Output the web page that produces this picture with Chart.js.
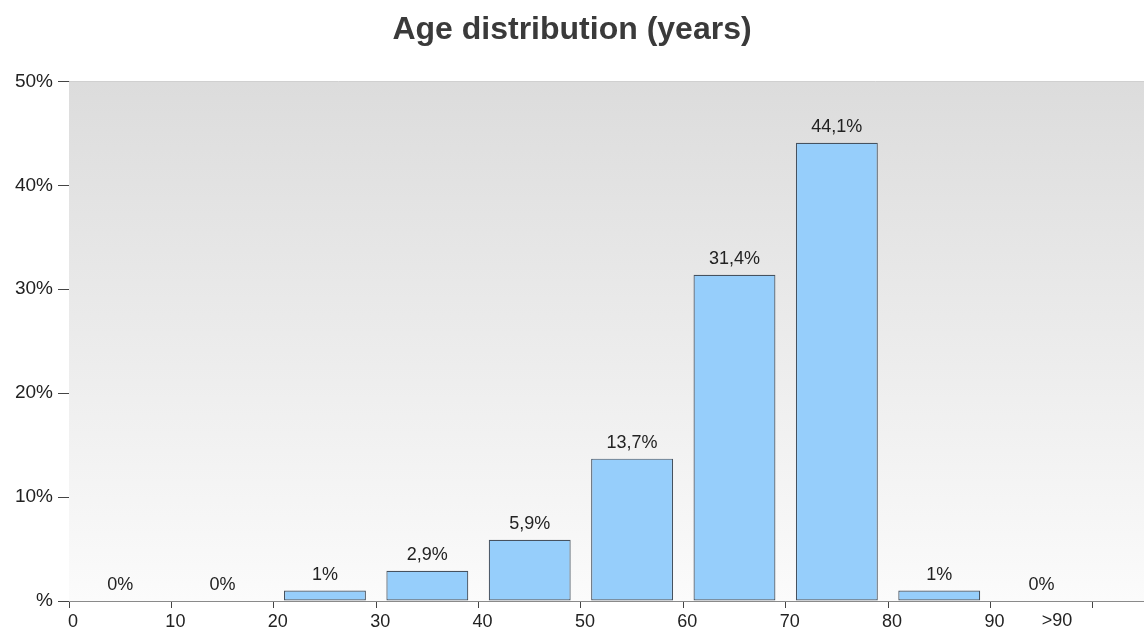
<!DOCTYPE html>
<html>
<head>
<meta charset="utf-8">
<script src="https://cdn.jsdelivr.net/npm/chart.js@4"></script>
<style>
  html, body { margin: 0; padding: 0; background: #fff; }
  #wrap { width: 1144px; height: 634px; }
</style>
</head>
<body>
<div id="wrap"><canvas id="ageChart"></canvas></div>
<script>
// age groups: bar centre on the x axis (years) and share in percent
const groupCentres = [5, 15, 25, 35, 45, 55, 65, 75, 85, 95];
const shares = [0, 0, 1, 2.9, 5.9, 13.7, 31.4, 44.1, 1, 0];
const xTickValues = [0, 10, 20, 30, 40, 50, 60, 70, 80, 90, 100];
const xTickLabels = ['0', '10', '20', '30', '40', '50', '60', '70', '80', '90', ''];
const lastGroupLabel = '>90';
const lastGroupLabelAt = 96.5;
const yTickValues = [0, 10, 20, 30, 40, 50];

const FONT = 'Liberation Sans, Arial, sans-serif';

// grey-to-white background behind the bars
const plotBackground = {
    id: 'plotBackground',
    beforeDatasetsDraw(chart) {
        const { ctx, chartArea: a } = chart;
        const g = ctx.createLinearGradient(0, a.top, 0, a.bottom);
        g.addColorStop(0, '#dcdcdc');
        g.addColorStop(1, '#fbfbfb');
        ctx.save();
        ctx.fillStyle = g;
        ctx.fillRect(a.left, a.top, a.right - a.left, a.bottom - a.top);
        ctx.restore();
    }
};

// value labels above every bar (comma as decimal mark) + the ">90" axis label
const valueLabels = {
    id: 'valueLabels',
    afterDatasetsDraw(chart) {
        const { ctx } = chart;
        const meta = chart.getDatasetMeta(0);
        ctx.save();
        ctx.font = '18px ' + FONT;
        ctx.fillStyle = '#222';
        ctx.textAlign = 'center';
        ctx.textBaseline = 'alphabetic';
        meta.data.forEach((bar, i) => {
            const txt = String(shares[i]).replace('.', ',') + '%';
            ctx.fillText(txt, bar.x, bar.y - 11);
        });
        ctx.restore();
    },
    afterDraw(chart) {
        const { ctx } = chart;
        const x = chart.scales.x;
        ctx.save();
        ctx.font = '18px ' + FONT;
        ctx.fillStyle = '#222';
        ctx.textAlign = 'center';
        ctx.textBaseline = 'top';
        ctx.fillText(lastGroupLabel, x.getPixelForValue(lastGroupLabelAt), x.top + 11);
        ctx.restore();
    }
};

Chart.register(plotBackground);

new Chart(document.getElementById('ageChart'), {
    type: 'bar',
    data: {
        datasets: [{
            data: groupCentres.map((x, i) => ({ x: x, y: shares[i] })),
            backgroundColor: '#96cefb',
            borderColor: '#46525f',
            borderWidth: 1.2,
            borderSkipped: false,
            barPercentage: 0.8,
            categoryPercentage: 1
        }]
    },
    options: {
        responsive: true,
        maintainAspectRatio: false,
        animation: false,
        layout: { padding: { left: 0, right: 0, top: 0, bottom: 0 } },
        plugins: {
            legend: { display: false },
            tooltip: { enabled: false },
            title: {
                display: true,
                text: 'Age distribution (years)',
                color: '#3a3a3a',
                font: { family: FONT, size: 32, weight: 'bold' },
                padding: { top: 11, bottom: 32 }
            }
        },
        scales: {
            x: {
                type: 'linear',
                offset: false,
                min: 0,
                max: 105,
                afterBuildTicks(axis) {
                    axis.ticks = xTickValues.map(v => ({ value: v }));
                },
                afterFit(axis) { axis.height = 33; },
                ticks: {
                    autoSkip: false,
                    maxRotation: 0,
                    padding: 3,
                    labelOffset: 4,
                    color: '#222',
                    font: { family: FONT, size: 18 },
                    callback: (v, i) => xTickLabels[i]
                },
                grid: {
                    drawOnChartArea: false,
                    offset: false,
                    tickLength: 7,
                    tickColor: '#444'
                },
                border: { color: '#8a8a8a', width: 1 }
            },
            y: {
                min: 0,
                max: 50,
                afterBuildTicks(axis) {
                    axis.ticks = yTickValues.map(v => ({ value: v }));
                },
                afterFit(axis) { axis.width = 69; },
                ticks: {
                    padding: 5,
                    color: '#222',
                    font: { family: FONT, size: 19 },
                    callback: v => v === 0 ? '%' : v + '%'
                },
                grid: {
                    color: '#bdbdbd',
                    tickColor: '#444',
                    tickLength: 11,
                    drawTicks: true
                },
                border: { color: '#aaaaaa', width: 1 }
            }
        }
    },
    plugins: [valueLabels]
});
</script>
</body>
</html>
